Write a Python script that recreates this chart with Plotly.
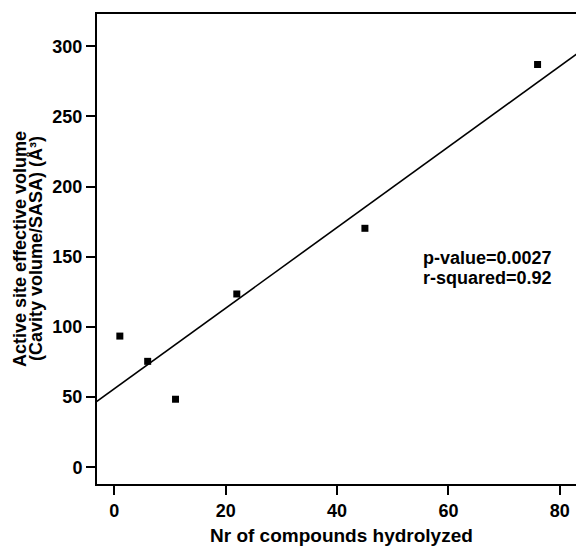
import numpy as np
import plotly.graph_objects as go

# Data
compounds_hydrolyzed = [1, 6, 11, 22, 45, 76]
effective_volume = [93.5, 75.5, 48.5, 123.5, 170.3, 287.0]

x_ticks = [0, 20, 40, 60, 80]
y_ticks = [0, 50, 100, 150, 200, 250, 300]
stats_lines = ["p-value=0.0027", "r-squared=0.92"]
x_title = "Nr of compounds hydrolyzed"
y_title_lines = ["Active site effective volume", "(Cavity volume/SASA) (Å³)"]

X_RANGE = [-3.1, 82.9]
Y_RANGE = [-11.9, 323]

# Linear regression fit
slope, intercept = np.polyfit(compounds_hydrolyzed, effective_volume, 1)
fit_x = np.array([X_RANGE[0] - 1, X_RANGE[1] + 1])
fit_y = slope * fit_x + intercept

FONT = "Liberation Sans, Arial, sans-serif"
L, T, R, B = 97, 14, 0, 63
W, H = 576, 547

fig = go.Figure()
fig.add_trace(go.Scatter(x=fit_x, y=fit_y, mode="lines",
                         line=dict(color="black", width=1.6),
                         showlegend=False, hoverinfo="skip"))
fig.add_trace(go.Scatter(x=compounds_hydrolyzed, y=effective_volume, mode="markers",
                         marker=dict(symbol="square", size=7, color="black"),
                         showlegend=False))

axis_common = dict(showgrid=False, zeroline=False, showline=True, linecolor="black",
                   linewidth=2, ticks="outside", ticklen=9, tickwidth=2, tickcolor="black",
                   tickfont=dict(family=FONT, size=18, color="black", weight="bold"))

fig.update_xaxes(range=X_RANGE, tickvals=x_ticks,
                 ticktext=[f"<b>{v}</b>" for v in x_ticks], mirror=True, **axis_common)
fig.update_yaxes(range=Y_RANGE, tickvals=y_ticks,
                 ticktext=[f"<b>{v}</b>" for v in y_ticks], mirror=False, **axis_common)

annotations = []
# x-axis title
annotations.append(dict(text=f"<b>{x_title}</b>", xref="paper", yref="paper", x=0, y=0,
                        xshift=341.5 - L, yshift=-51, xanchor="center", yanchor="middle",
                        showarrow=False,
                        font=dict(family=FONT, size=19, color="black")))
# y-axis title (two lines)
for px, line in zip([20, 36], y_title_lines):
    annotations.append(dict(text=f"<b>{line}</b>", xref="paper", yref="paper", x=0, y=0,
                            xshift=px - L, yshift=(H - B) - 249, textangle=-90,
                            xanchor="center", yanchor="middle", showarrow=False,
                            font=dict(family=FONT, size=18, color="black")))
# stats text
for py, line in zip([258, 278], stats_lines):
    annotations.append(dict(text=f"<b>{line}</b>", xref="paper", yref="paper", x=0, y=0,
                            xshift=421 - L, yshift=(H - B) - py, xanchor="left",
                            yanchor="middle", showarrow=False,
                            font=dict(family=FONT, size=18, color="black")))

fig.update_layout(width=W, height=H, margin=dict(l=L, r=R, t=T, b=B),
                  plot_bgcolor="white", paper_bgcolor="white",
                  annotations=annotations)

fig.write_html("out.html")
